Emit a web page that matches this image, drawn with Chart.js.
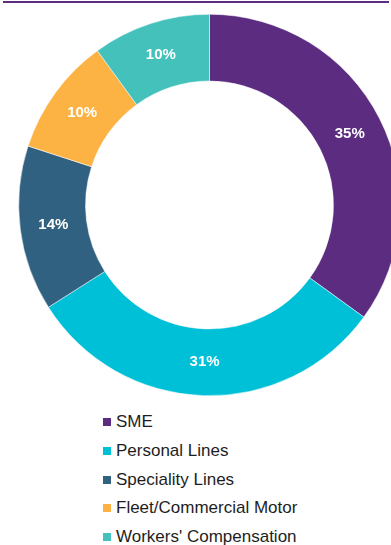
<!DOCTYPE html>
<html lang="en">
<head>
    <meta charset="UTF-8">
    <title>Portfolio mix</title>
    <script src="https://cdn.jsdelivr.net/npm/chart.js@4.4.1/dist/chart.umd.min.js"></script>
    <style>
        html, body {
            margin: 0;
            padding: 0;
            width: 391px;
            height: 545px;
            overflow: hidden;
            background: #fff;
            font-family: "Liberation Sans", Arial, sans-serif;
        }
        .top-rule {
            position: absolute;
            left: 3px;
            top: 1px;
            width: 386px;
            height: 2px;
            background: #5b2c80;
        }
        .chart-box {
            position: absolute;
            left: 0;
            top: 14px;
            width: 419px;
            height: 382px;
        }
        #legend {
            position: absolute;
            left: 103px;
            top: 408px;
            margin: 0;
            padding: 0;
            list-style: none;
        }
        #legend li {
            height: 28.7px;
            display: flex;
            align-items: center;
            font-size: 17px;
            color: #1e1e1e;
        }
        #legend span.box {
            display: inline-block;
            width: 8px;
            height: 8px;
            margin-right: 5px;
        }
    </style>
</head>
<body>
    <div class="top-rule"></div>
    <div class="chart-box">
        <canvas id="donut" width="419" height="382"></canvas>
    </div>
    <ul id="legend"></ul>

<script>
    const categories = ["SME", "Personal Lines", "Speciality Lines", "Fleet/Commercial Motor", "Workers' Compensation"]
    const shares = [35, 31, 14, 10, 10]
    const colours = ["#5b2c80", "#00c0d7", "#316180", "#fdb343", "#45c1bb"]

    // write the percentage in the middle of each slice
    const sliceLabels = {
        id: 'sliceLabels',
        afterDatasetsDraw(chart) {
            const ctx = chart.ctx
            const meta = chart.getDatasetMeta(0)
            ctx.save()
            ctx.font = 'bold 15px "Liberation Sans", Arial, sans-serif'
            ctx.fillStyle = '#fff'
            ctx.textAlign = 'center'
            ctx.textBaseline = 'middle'
            meta.data.forEach((arc, i) => {
                const pos = arc.tooltipPosition()
                ctx.fillText(shares[i] + '%', pos.x, pos.y)
            })
            ctx.restore()
        }
    }

    new Chart(document.getElementById("donut"), {
        type: 'doughnut',
        data: {
            labels: categories,
            datasets: [{
                data: shares,
                backgroundColor: colours,
                borderColor: '#ffffff',
                borderWidth: 0.5
            }]
        },
        options: {
            responsive: false,
            animation: false,
            cutout: '65%',
            layout: { padding: 0 },
            plugins: {
                legend: { display: false },
                tooltip: { enabled: false }
            }
        },
        plugins: [sliceLabels]
    })

    let html = ""
    categories.forEach((name, i) => {
        html += `<li><span class="box" style="background:${colours[i]}"></span>${name}</li>`
    })
    document.querySelector("#legend").innerHTML = html
</script>
</body>
</html>
